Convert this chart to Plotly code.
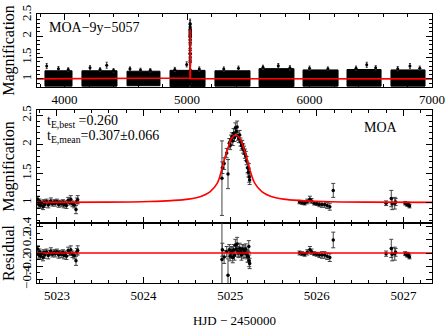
import plotly.graph_objects as go

# ---------------- data ----------------
# MOA 9-year light curve: observing seasons (HJD-2450000) and magnification envelope
season_start = [3840, 4142, 4510, 4861, 5228, 5588, 5947, 6306, 6665]
season_end   = [4061, 4428, 4779, 5147, 5514, 5873, 6233, 6584, 6943]
season_hi    = [1.19, 1.19, 1.18, 1.20, 1.19, 1.24, 1.21, 1.22, 1.21]
season_lo    = [0.83, 0.83, 0.84, 0.82, 0.83, 0.82, 0.83, 0.83, 0.83]

outlier_t   = [3854, 3950, 4030, 4208, 4290, 4344, 4400, 4534, 4620, 4700,
               4900, 4997, 5100, 5300, 5420, 5620, 5745, 5840, 6000, 6150,
               6380, 6467, 6540, 6720, 6820, 6900]
outlier_A   = [1.30, 1.24, 1.22, 1.26, 1.22, 1.32, 1.20, 1.24, 1.21, 1.20,
               1.22, 1.34, 1.23, 1.23, 1.25, 1.27, 1.31, 1.26, 1.25, 1.24,
               1.25, 1.33, 1.26, 1.24, 1.30, 1.25]
outlier_err = [0.06, 0.05, 0.04, 0.05, 0.04, 0.07, 0.04, 0.04, 0.04, 0.04,
               0.05, 0.06, 0.05, 0.05, 0.05, 0.05, 0.05, 0.05, 0.05, 0.04,
               0.05, 0.06, 0.05, 0.05, 0.06, 0.05]

# best-fit model
model_t = [5022.77, 5023.57, 5024.07, 5024.32, 5024.52, 5024.67, 5024.77, 5024.85, 5024.90,
           5024.94, 5024.98, 5025.015, 5025.065, 5025.115, 5025.15, 5025.19, 5025.23,
           5025.285, 5025.365, 5025.465, 5025.615, 5025.815, 5026.065, 5026.565, 5027.33]
model_A = [1.004, 1.008, 1.02, 1.035, 1.06, 1.11, 1.19, 1.33, 1.55,
           1.78, 1.96, 2.10, 2.16, 2.10, 1.96, 1.78, 1.55,
           1.33, 1.19, 1.11, 1.06, 1.035, 1.02, 1.008, 1.004]

# zoomed data points
pts_t = [5022.78, 5022.79, 5022.80, 5022.81, 5022.82, 5022.84, 5022.85, 5022.86, 5022.88, 5022.90,
         5022.92, 5022.93, 5022.95, 5022.97, 5022.98, 5023.00, 5023.02, 5023.03, 5023.05, 5023.07,
         5023.08, 5023.10, 5023.11, 5023.13, 5023.15, 5023.16, 5023.18, 5023.20, 5023.22, 5023.23, 5023.24,
         5024.905, 5024.91, 5024.93, 5024.975, 5024.96, 5024.99, 5025.00, 5025.01, 5025.02, 5025.03,
         5025.04, 5025.05, 5025.06, 5025.07, 5025.08, 5025.09, 5025.10, 5025.11, 5025.12, 5025.13,
         5025.14, 5025.15, 5025.16, 5025.17, 5025.18, 5025.19, 5025.20, 5025.21, 5025.215, 5025.22, 5025.225,
         5025.80, 5025.83, 5025.86, 5025.89, 5025.92, 5025.94, 5025.97, 5026.00, 5026.03, 5026.06,
         5026.09, 5026.12, 5026.15, 5026.19,
         5026.80, 5026.86, 5026.87, 5026.90, 5026.91, 5027.02, 5027.04, 5027.05, 5027.06, 5027.07]
pts_A = [1.06, 0.97, 1.02, 0.95, 0.99, 0.93, 1.01, 0.97, 1.02, 0.96,
         1.00, 1.03, 0.98, 1.01, 0.99, 1.02, 0.97, 1.00, 0.98, 1.01,
         0.96, 0.99, 0.95, 1.04, 1.00, 1.06, 0.98, 0.96, 0.88, 1.03, 1.05,
         1.42, 1.60, 1.67, 1.49, 1.85, 2.02, 1.98, 2.08, 2.13, 2.06,
         2.19, 2.12, 2.28, 2.22, 2.30, 2.15, 2.10, 2.16, 2.04, 1.98,
         2.00, 1.93, 1.90, 1.84, 1.80, 1.72, 1.60, 1.52, 1.58, 1.44, 1.39,
         1.01, 1.00, 0.99, 1.02, 1.06, 1.03, 0.99, 0.98, 0.97, 0.97,
         0.97, 0.95, 0.93, 1.21,
         0.99, 1.07, 0.98, 0.99, 1.01, 0.99, 0.97, 0.98, 0.96, 0.94]
pts_err = [0.05, 0.05, 0.04, 0.05, 0.04, 0.05, 0.04, 0.05, 0.04, 0.05,
           0.04, 0.05, 0.04, 0.04, 0.05, 0.04, 0.05, 0.04, 0.05, 0.04,
           0.05, 0.04, 0.05, 0.05, 0.04, 0.06, 0.05, 0.05, 0.07, 0.05, 0.07,
           0.64, 0.10, 0.10, 0.25, 0.08, 0.08, 0.07, 0.08, 0.07, 0.08,
           0.08, 0.07, 0.09, 0.08, 0.10, 0.08, 0.07, 0.08, 0.07, 0.08,
           0.07, 0.08, 0.07, 0.08, 0.08, 0.07, 0.09, 0.08, 0.09, 0.09, 0.08,
           0.03, 0.03, 0.03, 0.04, 0.05, 0.04, 0.03, 0.03, 0.04, 0.05,
           0.05, 0.05, 0.06, 0.12,
           0.04, 0.14, 0.10, 0.10, 0.06, 0.03, 0.03, 0.03, 0.03, 0.03]
pts_res = [0.06, -0.03, 0.02, -0.05, -0.01, -0.07, 0.01, -0.03, 0.02, -0.04,
           0.00, 0.03, -0.02, 0.01, -0.01, 0.02, -0.03, 0.00, -0.02, 0.01,
           -0.04, -0.01, -0.05, 0.04, 0.00, 0.05, -0.02, -0.04, -0.12, 0.02, 0.04,
           -0.10, 0.05, -0.06, -0.34, 0.02, 0.05, -0.05, 0.00, 0.03, -0.07,
           0.05, -0.04, 0.12, 0.06, 0.14, 0.02, 0.00, 0.07, 0.02, -0.03,
           0.06, 0.00, 0.05, 0.01, 0.06, -0.02, -0.05, -0.06, 0.10, -0.12, -0.16,
           0.00, -0.01, -0.02, 0.01, 0.05, 0.02, -0.01, -0.02, -0.03, -0.03,
           -0.03, -0.05, -0.07, 0.20,
           -0.01, 0.07, -0.02, -0.01, 0.01, -0.01, -0.03, -0.02, -0.04, -0.06]

top_range_x = [3775, 7000]
zoom_range_x = [5022.77, 5027.33]

FONT = "Liberation Serif"
RED = "#ff0000"

fig = go.Figure()

# ---- top panel: seasons as dense blobs ----
for s, e, hi, lo in zip(season_start, season_end, season_hi, season_lo):
    fig.add_trace(go.Scatter(x=[s, e, e, s, s], y=[lo, lo, hi, hi, lo], mode="lines",
                             fill="toself", fillcolor="black", line=dict(color="black", width=1),
                             hoverinfo="skip", showlegend=False, xaxis="x", yaxis="y"))
fig.add_trace(go.Scatter(x=outlier_t, y=outlier_A, mode="markers",
                         marker=dict(color="black", size=3),
                         error_y=dict(type="data", array=outlier_err, color="#333", thickness=1, width=1),
                         showlegend=False, xaxis="x", yaxis="y"))
fig.add_trace(go.Scatter(x=pts_t, y=pts_A, mode="markers",
                         marker=dict(color="black", size=3),
                         error_y=dict(type="data", array=pts_err, color="#333", thickness=1, width=1),
                         showlegend=False, xaxis="x", yaxis="y"))
fig.add_trace(go.Scatter(x=[top_range_x[0]] + model_t + [top_range_x[1]],
                         y=[1.0] + model_A + [1.0], mode="lines",
                         line=dict(color=RED, width=1.6), showlegend=False, xaxis="x", yaxis="y"))

# ---- middle panel ----
fig.add_trace(go.Scatter(x=pts_t, y=pts_A, mode="markers",
                         marker=dict(color="black", size=3.5),
                         error_y=dict(type="data", array=pts_err, color="#444", thickness=1, width=2),
                         showlegend=False, xaxis="x2", yaxis="y2"))
fig.add_trace(go.Scatter(x=model_t, y=model_A, mode="lines", line_shape="spline",
                         line=dict(color=RED, width=1.6), showlegend=False, xaxis="x2", yaxis="y2"))

# ---- residual panel ----
fig.add_trace(go.Scatter(x=pts_t, y=pts_res, mode="markers",
                         marker=dict(color="black", size=3.5),
                         error_y=dict(type="data", array=pts_err, color="#444", thickness=1, width=2),
                         showlegend=False, xaxis="x3", yaxis="y3"))
fig.add_trace(go.Scatter(x=zoom_range_x, y=[0, 0], mode="lines",
                         line=dict(color=RED, width=1.6), showlegend=False, xaxis="x3", yaxis="y3"))

tickfont = dict(family=FONT, size=13, color="black")
common = dict(showline=True, linecolor="black", linewidth=1, mirror="allticks",
              ticks="inside", ticklen=6, tickcolor="black", showgrid=False, zeroline=False,
              tickfont=tickfont, automargin=False)

fig.update_layout(
    width=447, height=328,
    margin=dict(l=37, r=15, t=14, b=45),
    paper_bgcolor="white", plot_bgcolor="white",
    font=dict(family=FONT, size=13, color="black"),
    xaxis=dict(domain=[0, 1], anchor="y", range=top_range_x, tickvals=[4000, 5000, 6000, 7000],
               minor=dict(ticks="inside", ticklen=3, dtick=200, tickcolor="black"), **common),
    yaxis=dict(domain=[0.7286, 1.0], anchor="x", range=[0.81, 2.52], tickvals=[1, 1.5, 2, 2.5],
               tickangle=-90, title=dict(text="Magnification", standoff=1),
               minor=dict(ticks="inside", ticklen=3, dtick=0.1, tickcolor="black"), **common),
    xaxis2=dict(domain=[0, 1], anchor="y2", range=zoom_range_x, dtick=1, showticklabels=False,
                minor=dict(ticks="inside", ticklen=3, dtick=0.2, tickcolor="black"), **common),
    yaxis2=dict(domain=[0.223, 0.6431], anchor="x2", range=[0.65, 2.59], tickvals=[1, 1.5, 2, 2.5],
                tickangle=-90, title=dict(text="Magnification", standoff=1),
                minor=dict(ticks="inside", ticklen=3, dtick=0.1, tickcolor="black"), **common),
    xaxis3=dict(domain=[0, 1], anchor="y3", range=zoom_range_x, tickvals=[5023, 5024, 5025, 5026, 5027],
                title=dict(text="HJD − 2450000", standoff=14, font=dict(family=FONT, size=13)),
                minor=dict(ticks="inside", ticklen=3, dtick=0.2, tickcolor="black"), **common),
    yaxis3=dict(domain=[0, 0.223], anchor="x3", range=[-0.46, 0.46], tickvals=[-0.4, -0.2, 0, 0.2, 0.4],
                tickangle=-90, title=dict(text="Residual", standoff=1),
                minor=dict(ticks="inside", ticklen=3, dtick=0.1, tickcolor="black"), **common),
)

fig.add_annotation(text="MOA−9y−5057", xref="x domain", yref="y domain", x=0.025, y=0.95,
                   xanchor="left", yanchor="top", showarrow=False, font=dict(family=FONT, size=14))
fig.add_annotation(text="t<sub>E,best</sub> =0.260", xref="x2 domain", yref="y2 domain", x=0.02, y=0.99,
                   xanchor="left", yanchor="top", showarrow=False, font=dict(family=FONT, size=14))
fig.add_annotation(text="t<sub>E,mean</sub>=0.307±0.066", xref="x2 domain", yref="y2 domain", x=0.02, y=0.86,
                   xanchor="left", yanchor="top", showarrow=False, font=dict(family=FONT, size=14))
fig.add_annotation(text="MOA", xref="x2 domain", yref="y2 domain", x=0.92, y=0.93,
                   xanchor="right", yanchor="top", showarrow=False, font=dict(family=FONT, size=14))

fig.write_html("out.html", config={"displayModeBar": False},
               post_script="document.body.style.margin='0';document.body.style.padding='0';")
